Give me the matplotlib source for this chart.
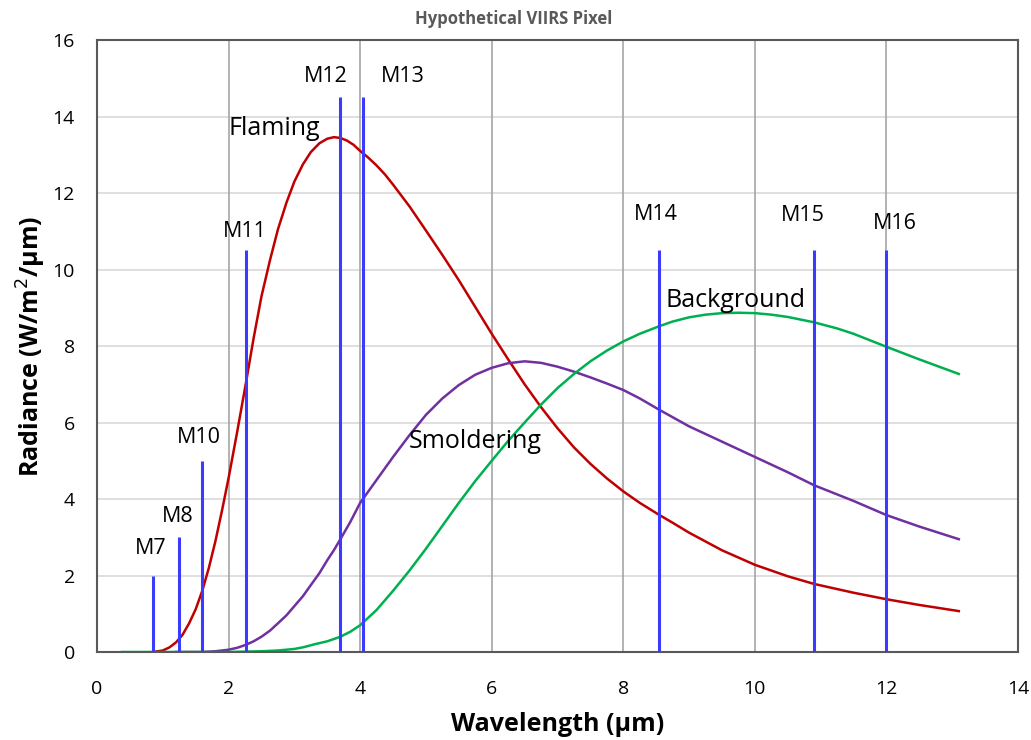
import matplotlib
matplotlib.use("Agg")
import matplotlib.pyplot as plt

plt.rcParams['font.family'] = ['Open Sans', 'DejaVu Sans']

# Flaming curve
flaming_x = [0.85, 1.0, 1.1, 1.2, 1.3, 1.4, 1.5, 1.6, 1.7, 1.8, 1.9, 2.0, 2.13, 2.26, 2.38, 2.5, 2.63, 2.75, 2.88, 3.0, 3.13, 3.25, 3.38, 3.5, 3.6, 3.7, 3.8, 3.9, 4.0, 4.12, 4.25, 4.38, 4.5, 4.75, 5.0, 5.25, 5.5, 5.75, 6.0, 6.25, 6.5, 6.75, 7.0, 7.25, 7.5, 7.75, 8.0, 8.25, 8.55, 8.75, 9.0, 9.5, 10.0, 10.5, 10.9, 11.5, 12.0, 12.5, 13.1]
flaming_y = [0.0, 0.04, 0.12, 0.25, 0.45, 0.75, 1.12, 1.6, 2.2, 2.9, 3.7, 4.55, 5.75, 7.0, 8.2, 9.3, 10.25, 11.05, 11.75, 12.3, 12.75, 13.07, 13.3, 13.42, 13.46, 13.44, 13.37, 13.26, 13.1, 12.93, 12.72, 12.48, 12.22, 11.65, 11.02, 10.38, 9.72, 9.02, 8.32, 7.65, 7.0, 6.4, 5.85, 5.35, 4.92, 4.54, 4.2, 3.9, 3.58, 3.38, 3.12, 2.66, 2.28, 1.98, 1.78, 1.55, 1.38, 1.23, 1.07]

# Smoldering curve
smolder_x = [1.2, 1.6, 1.8, 2.0, 2.13, 2.25, 2.38, 2.5, 2.63, 2.75, 2.88, 3.0, 3.13, 3.25, 3.38, 3.5, 3.6, 3.7, 3.85, 4.0, 4.25, 4.5, 4.75, 5.0, 5.25, 5.5, 5.75, 6.0, 6.25, 6.5, 6.75, 7.0, 7.25, 7.5, 7.75, 8.0, 8.25, 8.55, 9.0, 9.5, 10.0, 10.5, 10.9, 11.5, 12.0, 12.5, 13.1]
smolder_y = [0.0, 0.0, 0.02, 0.06, 0.11, 0.18, 0.28, 0.4, 0.56, 0.75, 0.96, 1.2, 1.46, 1.75, 2.06, 2.4, 2.66, 2.95, 3.4, 3.9, 4.5, 5.1, 5.67, 6.2, 6.63, 6.98, 7.25, 7.43, 7.55, 7.6, 7.56, 7.46, 7.33, 7.18, 7.02, 6.85, 6.63, 6.33, 5.9, 5.5, 5.1, 4.7, 4.36, 3.95, 3.58, 3.28, 2.95]

# Background curve
backgr_x = [0.38, 1.0, 2.0, 2.5, 2.75, 3.0, 3.15, 3.3, 3.5, 3.7, 3.85, 4.0, 4.25, 4.5, 4.75, 5.0, 5.25, 5.5, 5.75, 6.0, 6.25, 6.5, 6.75, 7.0, 7.25, 7.5, 7.75, 8.0, 8.25, 8.55, 8.75, 9.0, 9.25, 9.5, 9.75, 10.0, 10.25, 10.5, 10.9, 11.25, 11.5, 12.0, 12.5, 13.1]
backgr_y = [0.0, 0.0, 0.0, 0.02, 0.04, 0.08, 0.13, 0.2, 0.28, 0.4, 0.53, 0.7, 1.1, 1.6, 2.13, 2.7, 3.3, 3.9, 4.47, 5.0, 5.52, 6.0, 6.47, 6.9, 7.27, 7.6, 7.88, 8.12, 8.32, 8.52, 8.64, 8.75, 8.82, 8.86, 8.87, 8.86, 8.82, 8.76, 8.62, 8.46, 8.32, 7.98, 7.65, 7.27]

# VIIRS bands
band_names = ['M7', 'M8', 'M10', 'M11', 'M12', 'M13', 'M14', 'M15', 'M16']
band_x = [0.85, 1.25, 1.6, 2.26, 3.7, 4.05, 8.55, 10.9, 12.0]
band_h = [2.0, 3.0, 5.0, 10.5, 14.5, 14.5, 10.5, 10.5, 10.5]
# label positions (data coords)
band_lx = [0.81, 1.23, 1.55, 2.25, 3.48, 4.65, 8.5, 10.73, 12.13]
band_ly = [2.7, 3.55, 5.6, 11.0, 15.05, 15.05, 11.45, 11.4, 11.2]

curve_names = ['Flaming', 'Smoldering', 'Background']
curve_lx = [2.7, 5.75, 9.7]
curve_ly = [13.7, 5.5, 9.2]

fig = plt.figure(figsize=(10.31, 7.40), dpi=100)
ax = fig.add_axes([0.0941, 0.1189, 0.8933, 0.827])

ax.set_xlim(0, 14)
ax.set_ylim(0, 16)
ax.set_xticks(range(0, 15, 2))
ax.set_yticks(range(0, 17, 2))

for y in range(2, 16, 2):
    ax.axhline(y, color='#d9d9d9', lw=1.2, zorder=0)
for x in range(2, 14, 2):
    ax.axvline(x, color='#a6a6a6', lw=1.2, zorder=0)

ax.plot(flaming_x, flaming_y, color='#c00000', lw=1.8, zorder=2)
ax.plot(smolder_x, smolder_y, color='#7030a0', lw=1.8, zorder=2)
ax.plot(backgr_x, backgr_y, color='#00b050', lw=1.8, zorder=2)

ax.vlines(band_x, 0, band_h, color='#3b3bff', lw=2.2, zorder=3)

for n, lx, ly in zip(band_names, band_lx, band_ly):
    ax.text(lx, ly, n, ha='center', va='center', fontsize=15.5, color='black')
for n, lx, ly in zip(curve_names, curve_lx, curve_ly):
    ax.text(lx, ly, n, ha='center', va='center', fontsize=18, color='black')

for s in ax.spines.values():
    s.set_color('#595959')
    s.set_linewidth(1.5)

ax.tick_params(length=0, labelsize=14, colors='black')
ax.tick_params(axis='x', pad=20)
ax.tick_params(axis='y', pad=16)
ax.set_xlabel('Wavelength (µm)', fontsize=18, fontweight='bold', labelpad=10)
ax.set_ylabel('Radiance (W/m$^{2}$/µm)', fontsize=18, fontweight='bold', labelpad=3)
fig.text(514 / 1031, 1 - 19 / 740, 'Hypothetical VIIRS Pixel', ha='center', va='center',
         fontsize=12, fontweight='bold', color='#595959')

fig.savefig('out.png', dpi=100)
